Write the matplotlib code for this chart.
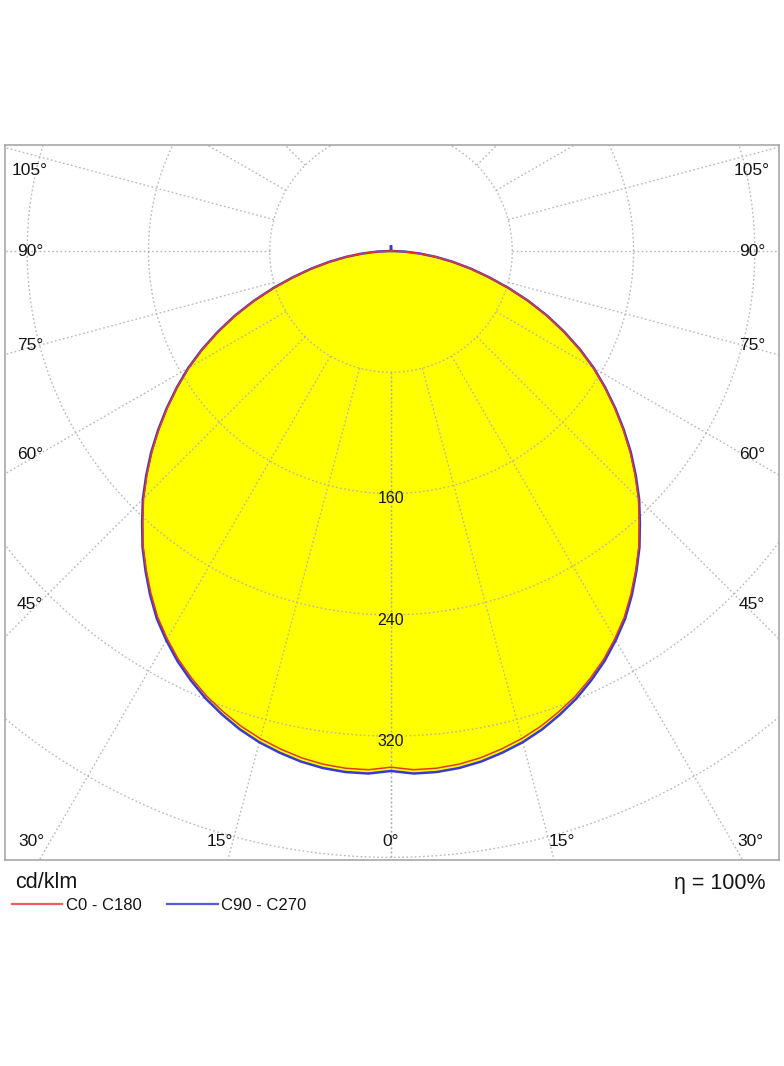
import numpy as np
import matplotlib
matplotlib.use("Agg")
import matplotlib.pyplot as plt

# ---------------- data ----------------
angles_deg = [0, 2.5, 5, 7.5, 10, 12.5, 15, 17.5, 20, 22.5, 25, 27.5, 30, 32.5, 35, 37.5,
              40, 42.5, 45, 47.5, 50, 52.5, 55, 57.5, 60, 62.5, 65, 67.5, 70, 72.5, 75,
              77.5, 80, 82.5, 85, 87.5, 90, 180]
c90_c270 = [343, 345, 345, 344, 342, 339, 335.5, 331, 325.5, 319.5, 312.5, 305, 296.5,
            287.5, 277, 266, 255, 243, 231.5, 219, 206.5, 193.5, 180.5, 167.5, 154.5, 140.5,
            126, 111.5, 96.5, 81.5, 67, 54, 41.5, 30, 19, 9, 0, 3]
c0_c180 = [340.5, 342.5, 342.5, 341.5, 339.5, 336.5, 333, 328.7, 323.5, 317.8, 311, 303.7,
           295.3, 286.4, 276, 265.2, 254.3, 242.3, 230.8, 218.3, 205.8, 192.9, 180, 167,
           154, 140, 125.5, 111, 96.1, 81.2, 66.7, 53.7, 41.2, 29.7, 18.7, 8.8, 0, 0]
ring_values = [80, 160, 240, 320, 400, 480]
ring_labels = [160, 240, 320]
radial_angles = [0, 15, 30, 45, 60, 75, 90, 105, 120, 135, 150, 165, 180]
side_label_angles = [105, 90, 75, 60, 45]
bottom_label_angles = [30, 15, 0, 15, 30]
bottom_label_sides = [-1, -1, 0, 1, 1]
unit_label = "cd/klm"
series_names = ["C0 - C180", "C90 - C270"]
efficiency = 100

# ---------------- layout ----------------
W, H = 784, 1066
box_l, box_r, box_t, box_b = 5, 779, 145, 860
ox, oy = 391, 251            # pixel position of the polar origin
s = 1.516                    # pixels per cd/klm

fig = plt.figure(figsize=(W / 100, H / 100), dpi=100)
ax = fig.add_axes([box_l / W, (H - box_b) / H, (box_r - box_l) / W, (box_b - box_t) / H])
ax.set_xlim((box_l - ox) / s, (box_r - ox) / s)
ax.set_ylim(-(box_b - oy) / s, (oy - box_t) / s)
ax.set_xticks([])
ax.set_yticks([])
for sp in ax.spines.values():
    sp.set_color("#a8a8a8")
    sp.set_linewidth(1.2)

FONT = "Liberation Sans"
TXT = "#151515"
grid_kw = dict(color="#acacac", lw=1.0, ls=(0, (1.2, 1.8)))


def curve_xy(angles, vals):
    a = np.radians(np.asarray(angles, float))
    v = np.asarray(vals, float)
    # right half (C0 / C90) and mirrored left half (C180 / C270)
    full_a = np.concatenate([-a[::-1], a[1:]])
    full_v = np.concatenate([v[::-1], v[1:]])
    return full_v * np.sin(full_a), -full_v * np.cos(full_a)


bx, by = curve_xy(angles_deg, c90_c270)
rx, ry = curve_xy(angles_deg, c0_c180)

ax.fill(bx, by, color="#ffff00", zorder=1, lw=0)

# grid: rings and radial lines (radials start at first ring)
t = np.linspace(0, 2 * np.pi, 721)
for r in ring_values:
    ax.plot(r * np.cos(t), r * np.sin(t), zorder=2, alpha=0.85, **grid_kw)
r0 = ring_values[0]
for a in radial_angles:
    for sgn in (-1, 1):
        ar = np.radians(a) * sgn
        ax.plot([r0 * np.sin(ar), 800 * np.sin(ar)], [-r0 * np.cos(ar), -800 * np.cos(ar)],
                zorder=2, alpha=0.85, **grid_kw)

ax.plot(bx, by, color="#3a3ad0", lw=1.8, zorder=3, solid_joinstyle="round")
ax.plot(rx, ry, color="#e03a2a", lw=1.1, zorder=4, solid_joinstyle="round")

# ring labels
for v in ring_labels:
    ax.text(0, -v - 3.5, str(v), ha="center", va="center", fontsize=11.5,
            family=FONT, color=TXT, zorder=5)

# side angle labels
x_in = 361 / s
for a in side_label_angles:
    y = -(353 / s) / np.tan(np.radians(a)) if a != 90 else 0.0
    y = min(y, (oy - 170) / s)
    for sgn in (-1, 1):
        ax.text(sgn * x_in, y, f"{a}°", ha="center", va="center", fontsize=12.5,
                family=FONT, color=TXT, zorder=5)

# bottom angle labels
yb = -(842 - oy) / s
for a, sd in zip(bottom_label_angles, bottom_label_sides):
    if a == 0:
        xb = 0.0
    else:
        xb = sd * min((box_b - oy) / s * np.tan(np.radians(a)) + 8 / s, x_in)
    ax.text(xb, yb, f"{a}°", ha="center", va="center", fontsize=12.5,
            family=FONT, color=TXT, zorder=5)


# texts and legend below the box
def fx(px):
    return px / W


def fy(py):
    return 1 - py / H


fig.text(fx(15), fy(883), unit_label, ha="left", va="center", fontsize=15.5,
         family=FONT, color=TXT)
fig.text(fx(766), fy(883), f"η = {efficiency}%", ha="right", va="center", fontsize=15.5,
         family=FONT, color=TXT)

legend_colors = ["#e86060", "#5a5ae0"]
legend_x = [(12, 62, 66), (167, 218, 221)]
for name, col, (x0, x1, xt) in zip(series_names, legend_colors, legend_x):
    fig.add_artist(plt.Line2D([fx(x0), fx(x1)], [fy(904), fy(904)], color=col, lw=1.6,
                              transform=fig.transFigure))
    fig.text(fx(xt), fy(906), name, ha="left", va="center", fontsize=12,
             family=FONT, color=TXT)

fig.savefig("out.png", dpi=100, facecolor="white")
